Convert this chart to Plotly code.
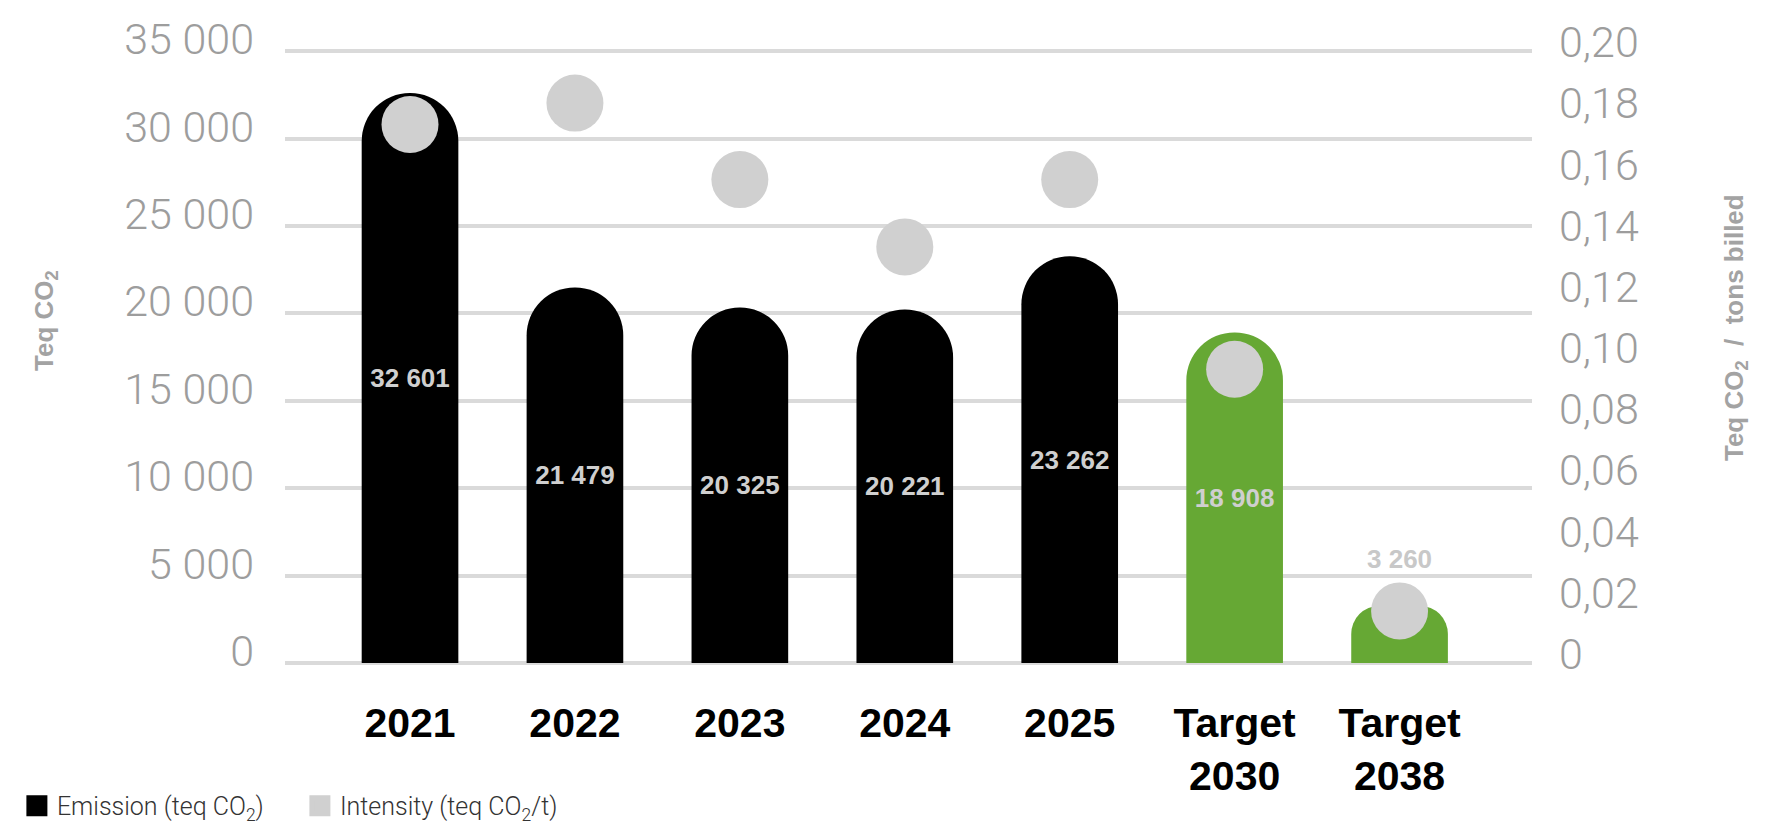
import plotly.graph_objects as go

# Emissions (teq CO2) and intensity (teq CO2 per ton billed) by year / target
categories = ["2021", "2022", "2023", "2024", "2025", "Target<br>2030", "Target<br>2038"]
emissions = [32601, 21479, 20325, 20221, 23262, 18908, 3260]
intensity = [0.176, 0.183, 0.158, 0.136, 0.158, 0.096, 0.017]
is_target = [False, False, False, False, False, True, True]

left_tickvals = [0, 5000, 10000, 15000, 20000, 25000, 30000, 35000]
left_ticktext = ["0", "5 000", "10 000", "15 000", "20 000", "25 000", "30 000", "35 000"]
right_tickvals = [0, 0.02, 0.04, 0.06, 0.08, 0.10, 0.12, 0.14, 0.16, 0.18, 0.20]
right_ticktext = ["0", "0,02", "0,04", "0,06", "0,08", "0,10", "0,12", "0,14", "0,16", "0,18", "0,20"]

BLACK = "#000000"
GREEN = "#66a834"
DOT = "#d0d0d0"
AXIS_GREY = "#9d9d9d"
GRID = "#dadada"
SANS = "Liberation Sans, Arial, sans-serif"
LIGHT = "Roboto, Liberation Sans, Arial, sans-serif"


def fmt_thousands(v):
    return f"{v:,}".replace(",", " ")


bar_colors = [GREEN if t else BLACK for t in is_target]

# axis ranges padded slightly so the 0 and 35 000 grid lines stay visible
Y_MAX = 35000
PAD = 120
y_range = [-PAD, Y_MAX + PAD]
y2_range = [v * 0.20 / Y_MAX for v in y_range]

fig = go.Figure()

# tall bars: fully rounded tops, value label in the middle of the bar
fig.add_trace(go.Bar(
    x=categories[:-1],
    y=emissions[:-1],
    width=0.586,
    marker=dict(color=bar_colors[:-1], cornerradius="50%", line=dict(width=0)),
    text=[fmt_thousands(v) for v in emissions[:-1]],
    textposition="inside",
    insidetextanchor="middle",
    textangle=0,
    textfont=dict(family=SANS, size=26, color="#cfcfcf", weight="bold"),
    hoverinfo="skip",
    showlegend=False,
))

# short bar: softer rounding, label placed above it
fig.add_trace(go.Bar(
    x=categories[-1:],
    y=emissions[-1:],
    width=0.586,
    marker=dict(color=bar_colors[-1:], cornerradius=28, line=dict(width=0)),
    hoverinfo="skip",
    showlegend=False,
))

fig.add_trace(go.Scatter(
    x=categories,
    y=intensity,
    yaxis="y2",
    mode="markers",
    marker=dict(size=57, color=DOT, line=dict(width=0)),
    cliponaxis=False,
    hoverinfo="skip",
    showlegend=False,
))

# legend keys (square swatches)
fig.add_trace(go.Scatter(
    x=[None], y=[None], mode="markers", name="Emission (teq CO<sub>2</sub>)",
    marker=dict(symbol="square", size=16, color=BLACK, line=dict(width=5, color=BLACK)),
))
fig.add_trace(go.Scatter(
    x=[None], y=[None], mode="markers", name="Intensity (teq CO<sub>2</sub>/t)",
    marker=dict(symbol="square", size=16, color=DOT, line=dict(width=5, color=DOT)),
))

fig.add_annotation(
    x=categories[-1], y=emissions[-1], xref="x", yref="y",
    text=f"<b>{fmt_thousands(emissions[-1])}</b>",
    showarrow=False, yanchor="bottom", yshift=30,
    font=dict(family=SANS, size=26, color="#c8c8c8"),
)

title_font = dict(family=SANS, size=26, color="#a3a3a3")
fig.add_annotation(
    x=-0.1925, y=0.560, xref="paper", yref="paper",
    text="<b>Teq CO<sub>2</sub></b>", textangle=-90, showarrow=False,
    xanchor="center", yanchor="middle", font=title_font,
)
fig.add_annotation(
    x=1.1628, y=0.547, xref="paper", yref="paper",
    text="<b>Teq CO<sub>2</sub>\u00a0\u00a0/\u00a0\u00a0tons billed</b>", textangle=-90, showarrow=False,
    xanchor="center", yanchor="middle", font=title_font,
)

tick_font = dict(family=LIGHT, size=43, color=AXIS_GREY, weight=300)

fig.update_layout(
    width=1784,
    height=824,
    margin=dict(l=285, r=252, t=48.9, b=158.9, pad=0, autoexpand=False),
    paper_bgcolor="white",
    plot_bgcolor="white",
    barmode="overlay",
    xaxis=dict(
        type="category",
        categoryarray=categories,
        range=[-0.758, 6.803],
        showgrid=False,
        zeroline=False,
        showline=False,
        ticks="",
        ticklabelstandoff=30,
        tickfont=dict(family=SANS, size=41, color="#000000", weight="bold"),
        fixedrange=True,
    ),
    yaxis=dict(
        range=y_range,
        tickvals=left_tickvals,
        ticktext=left_ticktext,
        showgrid=True,
        gridcolor=GRID,
        gridwidth=3.5,
        zeroline=False,
        showline=False,
        ticks="",
        ticklabelstandoff=30,
        ticklabelshift=-12,
        tickfont=tick_font,
        fixedrange=True,
    ),
    yaxis2=dict(
        range=y2_range,
        overlaying="y",
        side="right",
        tickvals=right_tickvals,
        ticktext=right_ticktext,
        showgrid=False,
        zeroline=False,
        showline=False,
        ticks="",
        ticklabelstandoff=26,
        ticklabelshift=-9,
        tickfont=tick_font,
        fixedrange=True,
    ),
    legend=dict(
        orientation="h",
        x=-0.215,
        xanchor="left",
        y=-0.2287,
        yanchor="middle",
        entrywidth=238,
        itemsizing="trace",
        font=dict(family=LIGHT, size=25, color="#333333", weight=300),
        bgcolor="rgba(0,0,0,0)",
        borderwidth=0,
    ),
)

fig.write_html("out.html")
